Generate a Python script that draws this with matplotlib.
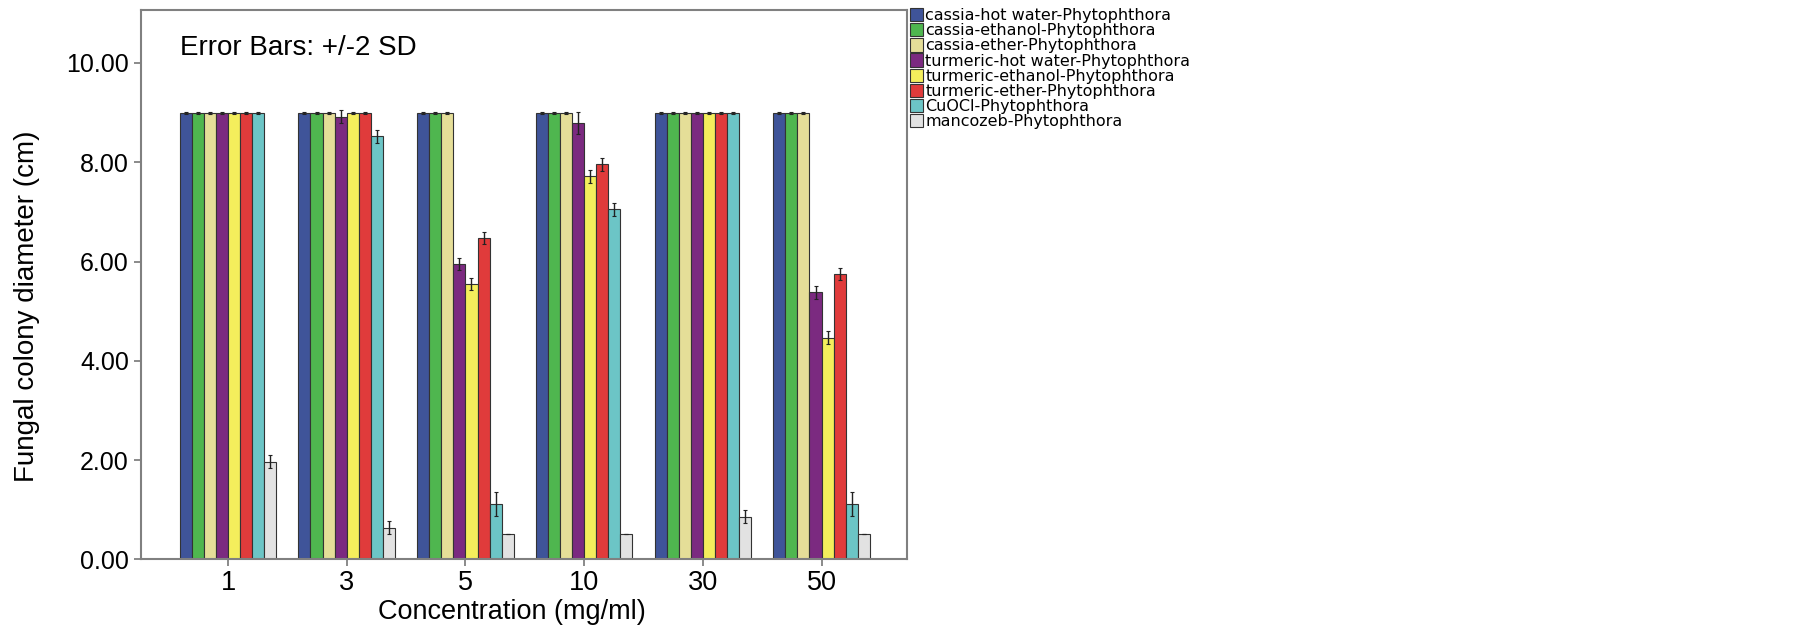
import matplotlib
matplotlib.use('Agg')
import matplotlib.pyplot as plt
import numpy as np

plt.rcParams['font.family'] = ['Liberation Sans', 'DejaVu Sans']

# concentrations (mg/ml) on the x axis
concentrations = ['1', '3', '5', '10', '30', '50']

series_names = ['cassia-hot water-Phytophthora',
                'cassia-ethanol-Phytophthora',
                'cassia-ether-Phytophthora',
                'turmeric-hot water-Phytophthora',
                'turmeric-ethanol-Phytophthora',
                'turmeric-ether-Phytophthora',
                'CuOCl-Phytophthora',
                'mancozeb-Phytophthora']

# mean colony diameters (cm)
cassia_hot = [9.0, 9.0, 9.0, 9.0, 9.0, 9.0]
cassia_ethanol = [9.0, 9.0, 9.0, 9.0, 9.0, 9.0]
cassia_ether = [9.0, 9.0, 9.0, 9.0, 9.0, 9.0]
turmeric_hot = [9.0, 8.92, 5.95, 8.79, 9.0, 5.38]
turmeric_ethanol = [9.0, 9.0, 5.54, 7.72, 9.0, 4.46]
turmeric_ether = [9.0, 9.0, 6.48, 7.96, 9.0, 5.74]
cuocl = [9.0, 8.52, 1.11, 7.05, 9.0, 1.11]
mancozeb = [1.97, 0.64, 0.51, 0.5, 0.86, 0.5]

# +/- 2 SD half lengths
cassia_hot_err = [0.02, 0.02, 0.02, 0.02, 0.02, 0.02]
cassia_ethanol_err = [0.02, 0.02, 0.02, 0.02, 0.02, 0.02]
cassia_ether_err = [0.02, 0.02, 0.02, 0.02, 0.02, 0.02]
turmeric_hot_err = [0.02, 0.13, 0.12, 0.22, 0.02, 0.13]
turmeric_ethanol_err = [0.02, 0.02, 0.12, 0.13, 0.02, 0.13]
turmeric_ether_err = [0.02, 0.02, 0.12, 0.13, 0.02, 0.12]
cuocl_err = [0.02, 0.13, 0.24, 0.13, 0.02, 0.24]
mancozeb_err = [0.13, 0.13, 0.0, 0.0, 0.13, 0.0]

colors = ['#3f5499', '#4fb64f', '#e5de98', '#7b2a80',
          '#f4ee5c', '#e03b3b', '#6cc5c6', '#e2e2e2']

values = [cassia_hot, cassia_ethanol, cassia_ether, turmeric_hot,
          turmeric_ethanol, turmeric_ether, cuocl, mancozeb]
errors = [cassia_hot_err, cassia_ethanol_err, cassia_ether_err, turmeric_hot_err,
          turmeric_ethanol_err, turmeric_ether_err, cuocl_err, mancozeb_err]

fig = plt.figure(figsize=(18.05, 6.26), dpi=100)
ax = fig.add_axes([0.0780, 0.1066, 0.4247, 0.8776])

x = np.arange(len(concentrations))
n = len(series_names)
width = 0.1018

for j in range(n):
    pos = x + (j - (n - 1) / 2) * width
    ax.bar(pos, values[j], width, color=colors[j], edgecolor='#333333',
           linewidth=0.8, label=series_names[j], zorder=2)
    ax.errorbar(pos, values[j], yerr=errors[j], fmt='none', ecolor='#222222',
                elinewidth=1.0, capsize=1.5, capthick=0.8, zorder=3)

ax.set_xlim(-0.735, 5.723)
ax.set_ylim(0, 11.07)
ax.set_xticks(x)
ax.set_xticklabels(concentrations)
ax.set_yticks(np.arange(0, 10.1, 2))
ax.set_yticklabels(['%.2f' % v for v in np.arange(0, 10.1, 2)])
ax.tick_params(axis='both', color='#777777', length=5, width=1.2)
ax.tick_params(axis='y', labelsize=18)
ax.tick_params(axis='x', labelsize=19.5, pad=3)

for s in ax.spines.values():
    s.set_color('#808080')
    s.set_linewidth(1.5)

ax.set_xlabel('Concentration (mg/ml)', fontsize=19.5)
ax.xaxis.set_label_coords(0.484, -0.072)
ax.set_ylabel('Fungal colony diameter (cm)', fontsize=20)
ax.yaxis.set_label_coords(-0.131, 0.46)

ax.text(0.051, 0.93, 'Error Bars: +/-2 SD', transform=ax.transAxes,
        fontsize=20, va='center', ha='left')

fig.legend(loc='upper left', bbox_to_anchor=(910 / 1805, 1 - 8 / 626),
           frameon=False, prop={'family': 'DejaVu Sans', 'size': 11.5},
           labelspacing=0.0, handlelength=0.8, handleheight=0.9,
           handletextpad=0.15, borderpad=0, borderaxespad=0)

fig.savefig('out.png', dpi=100)
